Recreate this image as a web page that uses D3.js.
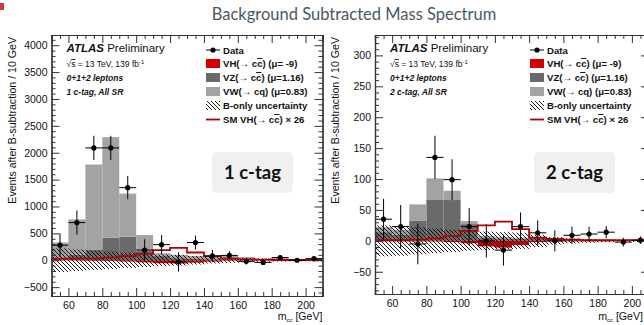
<!DOCTYPE html>
<html>
<head>
<meta charset="utf-8">
<script src="https://cdn.jsdelivr.net/npm/d3@7"></script>
<style>
  body { margin: 0; background: #fff; }
  svg { display: block; }
</style>
</head>
<body>
<div id="chart"></div>
<script>
// bin low edges (10 GeV bins, 50 - 210 GeV)
const binLow = [50, 60, 70, 80, 90, 100, 110, 120, 130, 140, 150, 160, 170, 180, 190, 200];

// 1 c-tag
const tag1Data = [280, 700, 2090, 2090, 1350, 190, 290, -30, 330, 80, 90, -20, -40, 50, 0, 30];
const tag1Err  = [220, 225, 225, 225, 215, 200, 180, 180, 130, 110, 80, 60, 50, 40, 30, 30];
const tag1VZ   = [40, 100, 190, 420, 440, 170, 80, 40, 30, 20, 20, 15, 10, 10, 5, 5];
const tag1VW   = [290, 660, 1590, 1870, 800, 298, 50, 60, 50, 40, 70, 45, 20, 30, 15, 15];
const tag1VH   = [-5, -8, -12, -15, -25, -40, -55, -60, -45, -25, -10, -5, -3, -2, -1, -1];
const tag1SM   = [30, 30, 30, 50, 75, 125, 187, 230, 144, 75, 30, 15, 10, 5, 5, 5];
const tag1Unc  = [220, 200, 180, 160, 140, 125, 110, 100, 80, 60, 50, 40, 30, 25, 20, 20];

// 2 c-tag
const tag2Data = [35, 23, -5, 135, 99, 23, 0, -15, 23, 13, 0, 9, 11, 14, -2, 1];
const tag2Err  = [33, 35, 33, 35, 33, 30, 27, 25, 23, 20, 17, 14, 12, 10, 7, 6];
const tag2VZ   = [14, 10, 33, 67, 66, 27, 5, 4, 3, 3, 2, 2, 1, 1, 1, 1];
const tag2VW   = [8, 8, 26, 34, 15, 5, 3, 2, 2, 2, 2, 1, 1, 1, 0, 0];
const tag2VH   = [-1, -1, -1, -1, -2, -4, -9, -11, -7, -2, -1, -1, -1, -1, 0, 0];
const tag2SM   = [1, 1, 2, 4, 8, 16, 25, 31, 19, 5, 3, 2, 1, 1, 1, 1];
const tag2Unc  = [25, 24, 22, 20, 18, 16, 15, 14, 13, 10, 6, 4, 3, 2, 2, 2];

const xMajor = [60, 80, 100, 120, 140, 160, 180, 200];
const xMinor = [55, 65, 70, 75, 85, 90, 95, 105, 110, 115, 125, 130, 135, 145, 150, 155, 165, 170, 175, 185, 190, 195, 205];
const y1Major = [-500, 0, 500, 1000, 1500, 2000, 2500, 3000, 3500, 4000];
const y2Major = [-50, 0, 50, 100, 150, 200, 250, 300];

// "c~" marks a c with an overline (c-bar)
const legendLabels = ["Data", "VH(\u2192 cc~) (\u03bc= -9)", "VZ(\u2192 cc~) (\u03bc=1.16)",
  "VW(\u2192 cq) (\u03bc=0.83)", "B-only uncertainty", "SM VH(\u2192 cc~) \u00d7 26"];

const colVW = "#a3a3a3", colVZ = "#6a6a6a", colVH = "#d40000", colSM = "#b40000";
const FONT = "'Liberation Sans', Arial, sans-serif";

const svg = d3.select("#chart").append("svg")
  .attr("width", 644).attr("height", 325);

// hatch pattern
svg.append("defs").append("pattern")
  .attr("id", "hatch").attr("patternUnits", "userSpaceOnUse")
  .attr("width", 4).attr("height", 4)
  .append("path")
  .attr("d", "M0,0 L4,4 M-1,3 L1,5 M3,-1 L5,1")
  .attr("stroke", "#000").attr("stroke-width", 0.9);

// slide title
svg.append("text")
  .attr("x", 354).attr("y", 20)
  .attr("text-anchor", "middle")
  .style("font-family", "Lato, 'Open Sans', sans-serif")
  .style("font-size", "16.5px")
  .style("fill", "#4a5866")
  .text("Background Subtracted Mass Spectrum");

// small red mark in the corner of the slide
svg.append("rect").attr("x", 0).attr("y", 3).attr("width", 4).attr("height", 7).attr("fill", "#d23a3a");

function addLabel(textSel, str) {
  str.split(/(c~)/).forEach(part => {
    if (part === "c~") {
      textSel.append("tspan").style("text-decoration", "overline").text("c");
    } else if (part) {
      textSel.append("tspan").text(part);
    }
  });
}

function drawPanel(opt) {
  const x = d3.scaleLinear().domain([50, 210]).range([opt.left, opt.right]);
  const y = d3.scaleLinear().domain(opt.yDomain).range([opt.bottom, opt.top]);
  const g = svg.append("g");
  const bw = x(60) - x(50);

  // VZ (bottom of stack)
  g.append("g").selectAll("rect").data(binLow).join("rect")
    .attr("x", d => x(d)).attr("width", bw)
    .attr("y", (d, i) => y(opt.vz[i]))
    .attr("height", (d, i) => y(0) - y(opt.vz[i]))
    .attr("fill", colVZ);
  // VW on top of VZ
  g.append("g").selectAll("rect").data(binLow).join("rect")
    .attr("x", d => x(d)).attr("width", bw)
    .attr("y", (d, i) => y(opt.vz[i] + opt.vw[i]))
    .attr("height", (d, i) => y(opt.vz[i]) - y(opt.vz[i] + opt.vw[i]))
    .attr("fill", colVW);
  // VH (negative)
  g.append("g").selectAll("rect").data(binLow).join("rect")
    .attr("x", d => x(d)).attr("width", bw)
    .attr("y", y(0))
    .attr("height", (d, i) => y(opt.vh[i]) - y(0))
    .attr("fill", colVH);
  // uncertainty band
  g.append("g").selectAll("rect").data(binLow).join("rect")
    .attr("x", d => x(d)).attr("width", bw + 0.5)
    .attr("y", (d, i) => y(opt.unc[i]))
    .attr("height", (d, i) => y(-opt.unc[i]) - y(opt.unc[i]))
    .attr("fill", "url(#hatch)");

  // SM VH x 26 outline
  const smPts = binLow.map((d, i) => [d, opt.sm[i]]);
  smPts.push([210, opt.sm[opt.sm.length - 1]]);
  g.append("path")
    .attr("d", d3.line().x(d => x(d[0])).y(d => y(d[1])).curve(d3.curveStepAfter)(smPts))
    .attr("fill", "none").attr("stroke", colSM).attr("stroke-width", 1.8);

  // data points
  const pts = g.append("g").selectAll("g").data(binLow).join("g");
  pts.append("line")
    .attr("x1", d => x(d)).attr("x2", d => x(d + 10))
    .attr("y1", (d, i) => y(opt.data[i])).attr("y2", (d, i) => y(opt.data[i]))
    .attr("stroke", "#000").attr("stroke-width", 1);
  pts.append("line")
    .attr("x1", d => x(d + 5)).attr("x2", d => x(d + 5))
    .attr("y1", (d, i) => y(opt.data[i] + opt.err[i])).attr("y2", (d, i) => y(opt.data[i] - opt.err[i]))
    .attr("stroke", "#000").attr("stroke-width", 1);
  pts.append("circle")
    .attr("cx", d => x(d + 5)).attr("cy", (d, i) => y(opt.data[i]))
    .attr("r", 2.6).attr("fill", "#000");

  // frame + ticks (inward on all four sides)
  const fmt = d => d < 0 ? "\u2212" + (-d) : String(d);
  const axes = g.append("g").style("font-family", FONT);
  const bottom = axes.append("g").attr("transform", `translate(0,${opt.bottom})`)
    .call(d3.axisBottom(x).tickValues(xMajor).tickSize(-8).tickPadding(4).tickFormat(fmt));
  axes.append("g").attr("transform", `translate(0,${opt.bottom})`)
    .call(d3.axisBottom(x).tickValues(xMinor).tickSize(-4).tickFormat(""));
  axes.append("g").attr("transform", `translate(0,${opt.top})`)
    .call(d3.axisTop(x).tickValues(xMajor).tickSize(-8).tickFormat(""));
  axes.append("g").attr("transform", `translate(0,${opt.top})`)
    .call(d3.axisTop(x).tickValues(xMinor).tickSize(-4).tickFormat(""));
  axes.append("g").attr("transform", `translate(${opt.left},0)`)
    .call(d3.axisLeft(y).tickValues(opt.yMajor).tickSize(-8).tickPadding(4).tickFormat(fmt));
  axes.append("g").attr("transform", `translate(${opt.left},0)`)
    .call(d3.axisLeft(y).tickValues(opt.yMinor).tickSize(-4).tickFormat(""));
  axes.append("g").attr("transform", `translate(${opt.right},0)`)
    .call(d3.axisRight(y).tickValues(opt.yMajor).tickSize(-8).tickFormat(""));
  axes.append("g").attr("transform", `translate(${opt.right},0)`)
    .call(d3.axisRight(y).tickValues(opt.yMinor).tickSize(-4).tickFormat(""));
  axes.selectAll(".domain").attr("stroke", "#333").attr("stroke-width", 1.2);
  axes.selectAll(".tick line").attr("stroke", "#333");
  axes.selectAll(".tick text").style("font-size", "10.5px").attr("fill", "#111");
  bottom.selectAll(".tick text").attr("dy", "0.9em");

  // axis titles
  svg.append("text")
    .attr("transform", `translate(${opt.left - 36},${opt.top + 2}) rotate(-90)`)
    .attr("text-anchor", "end")
    .style("font-family", FONT).style("font-size", "10.6px").attr("fill", "#111")
    .text("Events after B-subtraction / 10 GeV");
  const xt = svg.append("text")
    .attr("x", Math.min(x(210), 643)).attr("y", 320)
    .attr("text-anchor", "end")
    .style("font-family", FONT).style("font-size", "10.6px").attr("fill", "#111");
  xt.append("tspan").text("m");
  xt.append("tspan").attr("dy", 2).style("font-size", "6px").text("cc");
  xt.append("tspan").attr("dy", -2).text(" [GeV]");

  // ATLAS label
  const ax = opt.left + 15;
  const at = svg.append("text").attr("x", ax).attr("y", 52)
    .style("font-family", FONT).style("font-size", "11.5px").attr("fill", "#111");
  at.append("tspan").style("font-weight", "bold").style("font-style", "italic").text("ATLAS");
  at.append("tspan").text(" Preliminary");
  const sq = svg.append("text").attr("x", ax).attr("y", 67)
    .style("font-family", FONT).style("font-size", "8.5px").attr("fill", "#111");
  sq.append("tspan").text("\u221a");
  sq.append("tspan").style("text-decoration", "overline").text("s");
  sq.append("tspan").text(" = 13 TeV, 139 fb");
  sq.append("tspan").attr("dy", -3).style("font-size", "6px").text("-1");
  svg.append("text").attr("x", ax).attr("y", 81)
    .style("font-family", FONT).style("font-size", "8.5px").style("font-weight", "bold").style("font-style", "italic")
    .attr("fill", "#111").text("0+1+2 leptons");
  svg.append("text").attr("x", ax).attr("y", 95)
    .style("font-family", FONT).style("font-size", "8.5px").style("font-weight", "bold").style("font-style", "italic")
    .attr("fill", "#111").text(opt.tag + " c-tag, All SR");

  // legend
  const lg = svg.append("g").attr("transform", `translate(${opt.legX},0)`);
  const rowY = [50, 63.5, 77.5, 91.5, 105.5, 119.5];
  legendLabels.forEach((lab, i) => {
    const cy = rowY[i];
    if (i === 0) {
      lg.append("line").attr("x1", 0).attr("x2", 14).attr("y1", cy).attr("y2", cy).attr("stroke", "#000");
      lg.append("circle").attr("cx", 7).attr("cy", cy).attr("r", 2.6).attr("fill", "#000");
    } else if (i <= 3) {
      lg.append("rect").attr("x", 0).attr("y", cy - 4.5).attr("width", 14).attr("height", 9)
        .attr("fill", [colVH, colVZ, colVW][i - 1]);
    } else if (i === 4) {
      lg.append("rect").attr("x", 0).attr("y", cy - 4.5).attr("width", 14).attr("height", 9)
        .attr("fill", "url(#hatch)");
    } else {
      lg.append("line").attr("x1", 0).attr("x2", 14).attr("y1", cy).attr("y2", cy)
        .attr("stroke", colSM).attr("stroke-width", 1.8);
    }
    const t = lg.append("text").attr("x", 17).attr("y", cy + 3.5)
      .style("font-family", FONT).style("font-size", "9.6px").style("font-weight", "bold")
      .attr("fill", "#111");
    addLabel(t, lab);
  });

  // c-tag callout box
  svg.append("rect").attr("x", opt.boxX).attr("y", 152).attr("width", 81).attr("height", 41)
    .attr("rx", 5).attr("fill", "#f0f0f0");
  svg.append("text").attr("x", opt.boxX + 40.5).attr("y", 178.5)
    .attr("text-anchor", "middle")
    .style("font-family", "Lato, 'Open Sans', sans-serif").style("font-size", "18.5px").style("font-weight", "bold")
    .attr("fill", "#111").text(opt.tag + " c-tag");
}

drawPanel({
  left: 51.5, right: 322.5, top: 35, bottom: 296,
  yDomain: [-665, 4190], yMajor: y1Major,
  yMinor: [-600, -400, -300, -200, -100, 100, 200, 300, 400, 600, 700, 800, 900, 1100, 1200, 1300, 1400,
    1600, 1700, 1800, 1900, 2100, 2200, 2300, 2400, 2600, 2700, 2800, 2900, 3100, 3200, 3300, 3400,
    3600, 3700, 3800, 3900, 4100],
  data: tag1Data, err: tag1Err, vz: tag1VZ, vw: tag1VW, vh: tag1VH, sm: tag1SM, unc: tag1Unc,
  tag: "1", legX: 206, boxX: 212
});

drawPanel({
  left: 375, right: 649, top: 35, bottom: 294,
  yDomain: [-86, 333], yMajor: y2Major,
  yMinor: [-80, -70, -60, -40, -30, -20, -10, 10, 20, 30, 40, 60, 70, 80, 90, 110, 120, 130, 140,
    160, 170, 180, 190, 210, 220, 230, 240, 260, 270, 280, 290, 310, 320, 330],
  data: tag2Data, err: tag2Err, vz: tag2VZ, vw: tag2VW, vh: tag2VH, sm: tag2SM, unc: tag2Unc,
  tag: "2", legX: 530, boxX: 534
});
</script>
</body>
</html>
